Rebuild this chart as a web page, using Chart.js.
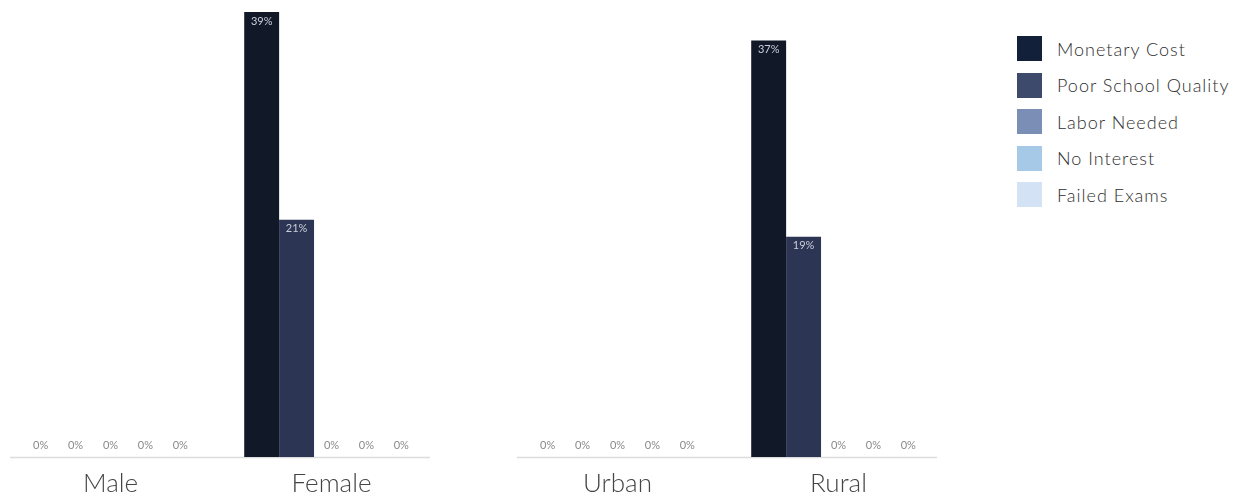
<!DOCTYPE html>
<html>
<head>
<meta charset="utf-8">
<script src="https://cdn.jsdelivr.net/npm/chart.js@4.4.1/dist/chart.umd.min.js"></script>
<style>
  body { margin: 0; background: #fff; font-family: Lato, sans-serif; }
  #wrap { position: relative; width: 1236px; height: 497px; }
  .box { position: absolute; top: 0; width: 442px; height: 497px; }
  #legend { position: absolute; left: 1017px; top: 36px; }
  .item { display: flex; align-items: center; height: 25px; margin-bottom: 11.5px; }
  .swatch { width: 25px; height: 25px; margin-right: 15px; }
  .item span { font-size: 18px; font-weight: 300; letter-spacing: 1px; color: #2e2e2e; white-space: nowrap; }
</style>
</head>
<body>
<div id="wrap">
  <div class="box" style="left:0"><canvas id="gender-chart"></canvas></div>
  <div class="box" style="left:507px"><canvas id="area-chart"></canvas></div>
  <div id="legend"></div>
</div>
<script>
const reasons = ['Monetary Cost', 'Poor School Quality', 'Labor Needed', 'No Interest', 'Failed Exams'];
const reasonColors = ['#111828', '#2c3553', '#7b8fb6', '#a5c9e6', '#d3e2f4'];
const legendColors = ['#13203a', '#3d4a6b', '#7b8fb6', '#a5c9e6', '#d3e2f4'];

const genderLabels = ['Male', 'Female'];
// one array per reason: [Male, Female]
const genderValues = [
  [0, 39.2],
  [0, 20.9],
  [0, 0],
  [0, 0],
  [0, 0]
];

const areaLabels = ['Urban', 'Rural'];
// one array per reason: [Urban, Rural]
const areaValues = [
  [0, 36.7],
  [0, 19.4],
  [0, 0],
  [0, 0],
  [0, 0]
];

const Y_MAX = 40;

// percent labels on top of / inside the bars
const barLabels = {
  id: 'barLabels',
  afterDatasetsDraw(chart) {
    const ctx = chart.ctx;
    ctx.save();
    ctx.textAlign = 'center';
    ctx.textBaseline = 'middle';
    ctx.font = '11px "Liberation Sans Narrow", Lato, sans-serif';
    chart.data.datasets.forEach((ds, i) => {
      chart.getDatasetMeta(i).data.forEach((bar, j) => {
        const v = ds.data[j];
        const txt = Math.round(v) + '%';
        if (v > 0) {
          ctx.fillStyle = '#c9ceda';
          ctx.fillText(txt, bar.x, bar.y + 9);
        } else {
          ctx.fillStyle = '#8a8a8a';
          ctx.fillText(txt, bar.x, bar.y - 12);
        }
      });
    });
    ctx.restore();
  }
};

// thin baseline, a bit shorter than the plot
const baseline = {
  id: 'baseline',
  beforeDatasetsDraw(chart) {
    const ctx = chart.ctx;
    const y = chart.scales.y.getPixelForValue(0);
    ctx.save();
    ctx.strokeStyle = '#dcdcdc';
    ctx.lineWidth = 1.5;
    ctx.beginPath();
    ctx.moveTo(10, y + 0.5);
    ctx.lineTo(430, y + 0.5);
    ctx.stroke();
    ctx.restore();
  }
};

function makeChart(id, labels, values) {
  const ctx = document.getElementById(id).getContext('2d');
  return new Chart(ctx, {
    type: 'bar',
    data: {
      labels: labels,
      datasets: reasons.map((name, i) => ({
        label: name,
        data: values[i],
        backgroundColor: reasonColors[i],
        borderWidth: 0,
        categoryPercentage: 0.79,
        barPercentage: 1
      }))
    },
    options: {
      responsive: true,
      maintainAspectRatio: false,
      animation: false,
      layout: { padding: { top: 3, left: 0, right: 0, bottom: 0 } },
      plugins: {
        legend: { display: false },
        tooltip: { enabled: false }
      },
      scales: {
        x: {
          grid: { display: false },
          border: { display: false },
          ticks: {
            color: '#444',
            padding: 3,
            font: { family: 'Lato', size: 26, weight: 300 }
          },
          afterFit(scale) { scale.height = 40; }
        },
        y: {
          display: false,
          min: 0,
          max: Y_MAX
        }
      }
    },
    plugins: [baseline, barLabels]
  });
}

makeChart('gender-chart', genderLabels, genderValues);
makeChart('area-chart', areaLabels, areaValues);

// legend built from the same arrays
const legendEl = document.getElementById('legend');
reasons.forEach((name, i) => {
  const row = document.createElement('div');
  row.className = 'item';
  const sw = document.createElement('div');
  sw.className = 'swatch';
  sw.style.background = legendColors[i];
  const t = document.createElement('span');
  t.textContent = name;
  row.appendChild(sw);
  row.appendChild(t);
  legendEl.appendChild(row);
});
</script>
</body>
</html>
